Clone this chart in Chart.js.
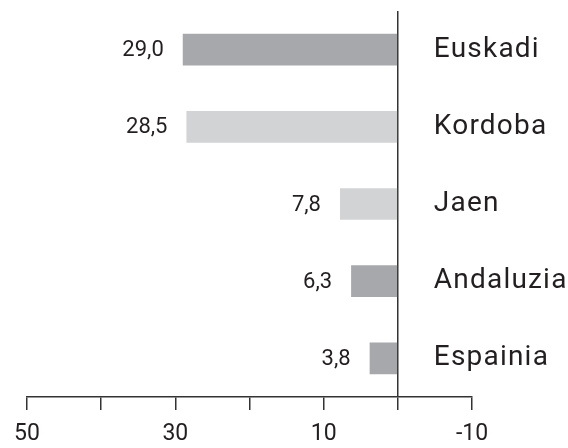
<!DOCTYPE html>
<html>
<head>
<meta charset="utf-8">
<script src="https://cdn.jsdelivr.net/npm/chart.js@4"></script>
<style>
  html, body { margin: 0; padding: 0; background: #fff; }
  #wrap { width: 568px; height: 448px; }
</style>
</head>
<body>
<div id="wrap"><canvas id="barChart" width="568" height="448"></canvas></div>
<script>
var regions = ['Euskadi', 'Kordoba', 'Jaen', 'Andaluzia', 'Espainia'];
var values = [29.0, 28.5, 7.8, 6.3, 3.8];
var barColors = ['#a7a8ab', '#d2d3d4', '#d2d3d4', '#a7a8ab', '#a7a8ab'];
var tickLabels = [50, 30, 10, -10];

var textColor = '#231f20';
var fontName = 'Roboto';

// value labels left of each bar, region names right of the zero line
var labelPlugin = {
    id: 'labels',
    afterDatasetsDraw: function (chart) {
        var ctx = chart.ctx;
        var meta = chart.getDatasetMeta(0);
        var xs = chart.scales.x;
        var zero = xs.getPixelForValue(0);
        ctx.save();
        ctx.fillStyle = textColor;
        ctx.textBaseline = 'middle';
        meta.data.forEach(function (bar, i) {
            ctx.font = '22px ' + fontName;
            ctx.textAlign = 'right';
            ctx.letterSpacing = '0px';
            ctx.fillText(values[i].toFixed(1).replace('.', ','), bar.x - 19, bar.y + 1);
            ctx.font = '28px ' + fontName;
            ctx.textAlign = 'left';
            ctx.letterSpacing = '1.2px';
            ctx.fillText(regions[i], zero + 36, bar.y);
        });
        ctx.restore();
    }
};

var chart = new Chart(document.getElementById('barChart').getContext('2d'), {
    type: 'bar',
    data: {
        labels: regions,
        datasets: [{
            data: values,
            backgroundColor: barColors,
            borderWidth: 0,
            barPercentage: 0.41,
            categoryPercentage: 1
        }]
    },
    options: {
        indexAxis: 'y',
        responsive: false,
        animation: false,
        layout: { padding: { left: 27, right: 96, top: 11, bottom: 0 } },
        plugins: {
            legend: { display: false },
            tooltip: { enabled: false }
        },
        scales: {
            x: {
                type: 'linear',
                reverse: true,
                min: -10,
                max: 50,
                afterFit: function (scale) { scale.height = 51; },
                border: { display: true, color: '#333', width: 1.5 },
                grid: {
                    drawOnChartArea: true,
                    drawTicks: true,
                    tickLength: 13,
                    tickColor: '#333',
                    tickWidth: 1.5,
                    lineWidth: 1.5,
                    color: function (c) { return c.tick && c.tick.value === 0 ? '#333' : 'rgba(0,0,0,0)'; }
                },
                ticks: {
                    stepSize: 10,
                    autoSkip: false,
                    maxRotation: 0,
                    padding: 10,
                    color: textColor,
                    font: { family: fontName, size: 23 },
                    callback: function (v) { return tickLabels.indexOf(v) >= 0 ? String(v) : ''; }
                }
            },
            y: {
                display: false
            }
        }
    },
    plugins: [labelPlugin]
});
</script>
</body>
</html>
